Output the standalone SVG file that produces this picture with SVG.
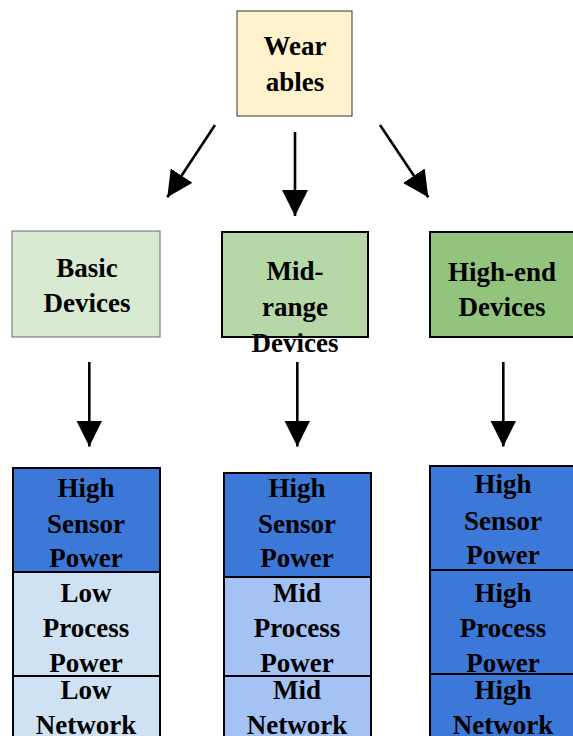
<svg xmlns="http://www.w3.org/2000/svg" width="573" height="736" viewBox="0 0 573 736">
  <style>
    .lbl { font-family: "Liberation Serif", "Times New Roman", serif; font-weight: bold; font-size: 27px; fill: #000; text-anchor: middle; }
    .box { stroke: #000; stroke-width: 2; }
    .conn { stroke: #000; stroke-width: 2.6; fill: none; marker-end: url(#head); }
    .hi { fill: #3c78d8; }
    .mid { fill: #a4c2f4; }
    .lo { fill: #cfe2f3; }
  </style>
  <defs>
    <marker id="head" viewBox="0 0 26 26" markerWidth="26" markerHeight="26" refX="26" refY="13" orient="auto" markerUnits="userSpaceOnUse">
      <path d="M0,0 L26,13 L0,26 z" fill="#000"/>
    </marker>
  </defs>
  <rect width="573" height="736" fill="#fff"/>

  <!-- root -->
  <g id="wearables">
    <rect x="237" y="11" width="115" height="105" fill="#fff2cc" stroke="#333" stroke-width="1"/>
    <text class="lbl" x="295" y="55">Wear</text>
    <text class="lbl" x="295" y="91">ables</text>
  </g>

  <!-- device tiers -->
  <g id="basic-devices">
    <rect x="12" y="231" width="148" height="106" fill="#d9ead3" stroke="#666" stroke-width="1"/>
    <text class="lbl" x="87" y="277">Basic</text>
    <text class="lbl" x="87" y="312">Devices</text>
  </g>
  <g id="midrange-devices">
    <rect class="box" x="222" y="232" width="146" height="105" fill="#b6d7a8"/>
    <text class="lbl" x="295" y="280">Mid-</text>
    <text class="lbl" x="295" y="316">range</text>
    <text class="lbl" x="295" y="352">Devices</text>
  </g>
  <g id="highend-devices">
    <rect class="box" x="430" y="232" width="148" height="105" fill="#93c47d"/>
    <text class="lbl" x="502" y="281">High-end</text>
    <text class="lbl" x="502" y="316">Devices</text>
  </g>

  <!-- power profile stacks -->
  <g id="basic-profile">
    <rect class="box hi" x="13" y="468" width="147" height="104"/>
    <rect class="box lo" x="13" y="572" width="147" height="104"/>
    <rect class="box lo" x="13" y="676" width="147" height="80"/>
    <text class="lbl" x="86" y="497">High</text>
    <text class="lbl" x="86" y="533">Sensor</text>
    <text class="lbl" x="86" y="567">Power</text>
    <text class="lbl" x="86" y="602">Low</text>
    <text class="lbl" x="86" y="637">Process</text>
    <text class="lbl" x="86" y="672">Power</text>
    <text class="lbl" x="86" y="699">Low</text>
    <text class="lbl" x="86" y="734">Network</text>
  </g>
  <g id="midrange-profile">
    <rect class="box hi" x="224" y="473" width="147" height="104"/>
    <rect class="box mid" x="224" y="577" width="147" height="99"/>
    <rect class="box mid" x="224" y="676" width="147" height="80"/>
    <text class="lbl" x="297" y="497">High</text>
    <text class="lbl" x="297" y="533">Sensor</text>
    <text class="lbl" x="297" y="567">Power</text>
    <text class="lbl" x="297" y="602">Mid</text>
    <text class="lbl" x="297" y="637">Process</text>
    <text class="lbl" x="297" y="672">Power</text>
    <text class="lbl" x="297" y="699">Mid</text>
    <text class="lbl" x="297" y="734">Network</text>
  </g>
  <g id="highend-profile">
    <rect class="box hi" x="430" y="466" width="148" height="104"/>
    <rect class="box hi" x="430" y="570" width="148" height="104"/>
    <rect class="box hi" x="430" y="674" width="148" height="82"/>
    <text class="lbl" x="503" y="493">High</text>
    <text class="lbl" x="503" y="530">Sensor</text>
    <text class="lbl" x="503" y="564">Power</text>
    <text class="lbl" x="503" y="602">High</text>
    <text class="lbl" x="503" y="637">Process</text>
    <text class="lbl" x="503" y="672">Power</text>
    <text class="lbl" x="503" y="699">High</text>
    <text class="lbl" x="503" y="734">Network</text>
  </g>

  <!-- connectors -->
  <g id="connectors">
    <line class="conn" x1="215" y1="125" x2="167.3" y2="197.3"/>
    <line class="conn" x1="295" y1="132" x2="295" y2="216"/>
    <line class="conn" x1="380" y1="125" x2="428.3" y2="197.3"/>
    <line class="conn" x1="89.3" y1="362" x2="89.3" y2="446.5"/>
    <line class="conn" x1="297.3" y1="362" x2="297.3" y2="446.5"/>
    <line class="conn" x1="503.3" y1="362" x2="503.3" y2="446.5"/>
  </g>
</svg>
